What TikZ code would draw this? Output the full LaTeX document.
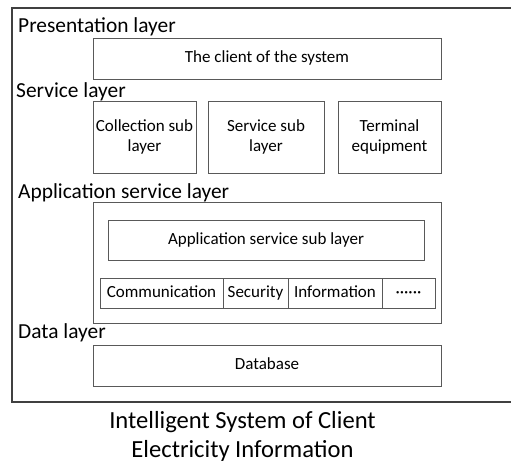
\documentclass[tikz,border=0pt]{standalone}
\usepackage{fontspec}
\setmainfont{Carlito}
\begin{document}
\begin{tikzpicture}[x=1pt,y=1pt,
  box/.style={draw=black!65, line width=0.9pt, inner sep=0pt, outer sep=0pt, font=\fontsize{17}{20}\selectfont, align=center},
  onebox/.style={box, text height=12pt, text depth=4pt},
  layerlabel/.style={anchor=base west, inner sep=0pt, font=\fontsize{21.4}{24}\selectfont},
  titletext/.style={inner sep=0pt, align=center, font=\fontsize{24.6}{29}\selectfont}]
\useasboundingbox (0,0) rectangle (511,-464);
\coordinate (ftr) at (511,-8);
\coordinate (fbr) at (511,-402);
\draw[draw=black!75, line width=2pt, line join=miter] (ftr) -- (12,-8) -- (12,-402) -- (fbr);
\node[layerlabel] (pl) at (18,-32) {Presentation layer};
\node[layerlabel] (sl) at (16,-97) {Service layer};
\node[layerlabel] (al) at (18,-198) {Application service layer};
\node[layerlabel] (dl) at (18,-338) {Data layer};
\node[onebox, minimum width=348, minimum height=41] (client) at (267,-58.5) {The client of the system};
\node[box, minimum width=103, minimum height=72] (coll) at (144.5,-137) {Collection sub\\layer};
\node[box, minimum width=116, minimum height=72] (serv) at (266,-137) {Service sub\\layer};
\node[box, minimum width=103, minimum height=72] (term) at (389.5,-137) {Terminal\\equipment};
\node[box, minimum width=348, minimum height=121] (appouter) at (267,-262.5) {};
\node[onebox, minimum width=316, minimum height=40] (appsub) at (266,-240) {Application service sub layer};
\node[onebox, minimum width=123, minimum height=30] (comm) at (161.5,-293) {Communication};
\node[onebox, minimum width=65, minimum height=30] (sec) at (255.5,-293) {Security};
\node[onebox, minimum width=94, minimum height=30] (info) at (335,-293) {Information};
\node[onebox, minimum width=53, minimum height=30] (dots) at (408.5,-293) {······};
\node[onebox, minimum width=348, minimum height=41] (db) at (267,-365.5) {Database};
\node[titletext, anchor=base] (title) at (242.5,-457) {Intelligent System of Client\\Electricity Information};
\end{tikzpicture}
\end{document}
